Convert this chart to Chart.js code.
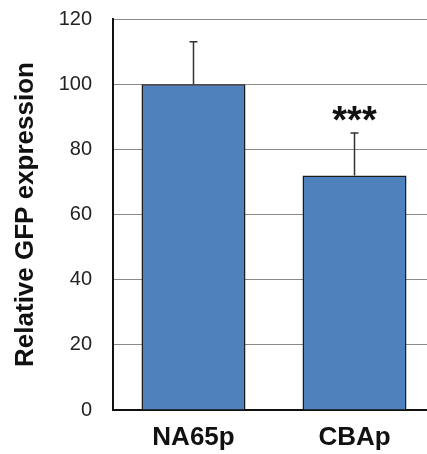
<!DOCTYPE html>
<html>
<head>
<meta charset="utf-8">
<script src="https://cdn.jsdelivr.net/npm/chart.js@4"></script>
<style>
  html, body { margin: 0; padding: 0; background: #fff; overflow: hidden; }
  #wrap { width: 440px; height: 454px; }
</style>
</head>
<body>
<div id="wrap"><canvas id="chart" width="440" height="454"></canvas></div>
<script>
// ---- data ----
const categories = ['NA65p', 'CBAp'];
const values = [100, 72];
const errorsUp = [13, 13];
const significance = ['', '***'];
const yTicks = [0, 20, 40, 60, 80, 100, 120];

// error bars + significance marks, drawn from the y scale
const errorBarPlugin = {
    id: 'errorBars',
    afterDatasetsDraw(chart) {
        const ctx = chart.ctx;
        const meta = chart.getDatasetMeta(0);
        const y = chart.scales.y;
        ctx.save();
        meta.data.forEach((bar, i) => {
            const yTop = y.getPixelForValue(values[i] + errorsUp[i]);
            const yBase = y.getPixelForValue(values[i]);
            ctx.strokeStyle = '#333';
            ctx.lineWidth = 1.5;
            ctx.beginPath();
            ctx.moveTo(bar.x, yBase);
            ctx.lineTo(bar.x, yTop);
            ctx.moveTo(bar.x - 4, yTop);
            ctx.lineTo(bar.x + 4, yTop);
            ctx.stroke();
            if (significance[i]) {
                ctx.fillStyle = '#111';
                ctx.font = 'bold 38px "Liberation Sans", Arial, sans-serif';
                ctx.textAlign = 'center';
                ctx.textBaseline = 'alphabetic';
                ctx.fillText(significance[i], bar.x, yTop);
            }
        });
        ctx.restore();
    }
};

const ctx = document.getElementById('chart').getContext('2d');
new Chart(ctx, {
    type: 'bar',
    data: {
        labels: categories,
        datasets: [{
            data: values,
            backgroundColor: '#4f81bd',
            borderColor: '#1c1c1c',
            borderWidth: 1.5,
            categoryPercentage: 1,
            barPercentage: 0.646
        }]
    },
    options: {
        responsive: false,
        animation: false,
        layout: { padding: { top: 19, right: 5, left: 0, bottom: 0 } },
        plugins: {
            legend: { display: false },
            tooltip: { enabled: false }
        },
        scales: {
            x: {
                grid: { color: 'rgba(0,0,0,0)', drawTicks: false },
                border: { display: true, color: '#111', width: 2 },
                ticks: {
                    padding: 12,
                    color: '#111',
                    font: { family: '"Liberation Sans", Arial, sans-serif', size: 26, weight: 'bold' }
                },
                afterFit(scale) {
                    scale.height = 44;
                    scale.paddingLeft = 0;
                    scale.paddingRight = 0;
                }
            },
            y: {
                min: 0,
                max: 120,
                afterBuildTicks(scale) { scale.ticks = yTicks.map(v => ({ value: v })); },
                grid: { color: '#8a8a8a', lineWidth: 1, drawTicks: false },
                border: { display: true, color: '#111', width: 2 },
                ticks: {
                    padding: 21,
                    color: '#222',
                    font: { family: '"Liberation Sans", Arial, sans-serif', size: 20 }
                },
                title: {
                    display: true,
                    text: 'Relative GFP expression',
                    color: '#111',
                    padding: { top: 10, bottom: 0 },
                    font: { family: '"Liberation Sans", Arial, sans-serif', size: 26, weight: 'bold' }
                },
                afterFit(scale) {
                    scale.width = 113;
                    scale.paddingTop = 0;
                    scale.paddingBottom = 0;
                }
            }
        }
    },
    plugins: [errorBarPlugin]
});
</script>
</body>
</html>
